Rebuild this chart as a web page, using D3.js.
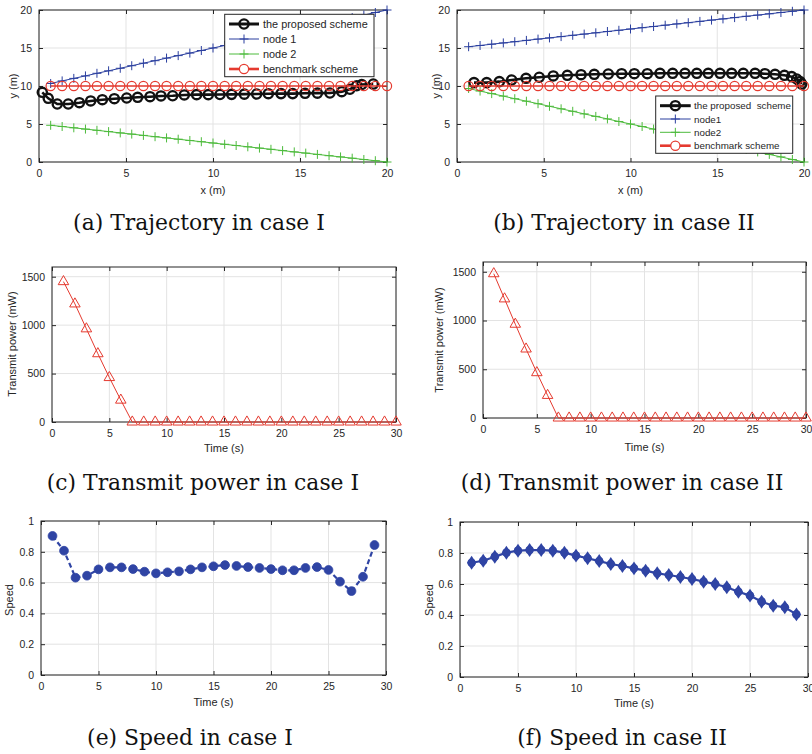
<!DOCTYPE html>
<html><head><meta charset="utf-8">
<script src="https://cdn.jsdelivr.net/npm/d3@7"></script>
<style>
html,body{margin:0;padding:0;background:#fff;}
svg{display:block;}
text{font-family:"Liberation Sans",Arial,sans-serif;}
</style></head>
<body>
<svg id="fig" width="812" height="754"></svg>
<script>
// ---------------- DATA ----------------
const trajTicks = [0, 5, 10, 15, 20];
const timeTicks = [0, 5, 10, 15, 20, 25, 30];
const powerTicks = [0, 500, 1000, 1500];
const speedTicks = [0, 0.2, 0.4, 0.6, 0.8, 1];

// common x positions of node / benchmark markers (m)
const nodeX = [0.67,1.33,2,2.67,3.33,4,4.67,5.33,6,6.67,7.33,8,8.67,9.33,10,10.67,11.33,12,12.67,13.33,14,14.67,15.33,16,16.67,17.33,18,18.67,19.33,20];
const benchY = [10,10,10,10,10,10,10,10,10,10,10,10,10,10,10,10,10,10,10,10,10,10,10,10,10,10,10,10,10,10];

// case I
const node1Y_I = [10.33,10.67,11,11.33,11.67,12,12.33,12.67,13,13.33,13.67,14,14.33,14.67,15,15.33,15.67,16,16.33,16.67,17,17.33,17.67,18,18.33,18.67,19,19.33,19.67,20];
const node2Y_I = [4.83,4.67,4.5,4.33,4.17,4,3.83,3.67,3.5,3.33,3.17,3,2.83,2.67,2.5,2.33,2.17,2,1.83,1.67,1.5,1.33,1.17,1,0.83,0.67,0.5,0.33,0.17,0];
const propX_I = [0.19,0.53,1.05,1.68,2.32,2.97,3.64,4.33,5.04,5.67,6.38,7.01,7.68,8.35,9.06,9.73,10.40,11.07,11.80,12.51,13.18,13.91,14.58,15.29,16.00,16.72,17.40,17.87,18.26,18.55,19.21];
const propY_I = [9.17,8.38,7.63,7.63,7.80,8.03,8.20,8.33,8.42,8.51,8.59,8.69,8.72,8.82,8.86,8.86,8.88,8.90,8.93,8.95,8.99,9.00,9.00,9.04,9.06,9.08,9.25,9.57,10.04,10.20,10.26];

// case II
const node1Y_II = [15.17,15.33,15.5,15.67,15.83,16,16.17,16.33,16.5,16.67,16.83,17,17.17,17.33,17.5,17.67,17.83,18,18.17,18.33,18.5,18.67,18.83,19,19.17,19.33,19.5,19.67,19.83,20];
const node2Y_II = [9.67,9.33,9,8.67,8.33,8,7.67,7.33,7,6.67,6.33,6,5.67,5.33,5,4.67,4.33,4,3.67,3.33,3,2.67,2.33,2,1.67,1.33,1,0.67,0.33,0];
const propX_II = [0.98,1.71,2.44,3.15,3.98,4.74,5.55,6.36,7.15,7.91,8.72,9.49,10.22,10.97,11.70,12.43,13.14,13.82,14.48,15.16,15.83,16.50,17.18,17.75,18.33,18.87,19.29,19.58,19.77,19.87];
const propY_II = [10.44,10.44,10.57,10.79,11.01,11.15,11.32,11.41,11.49,11.54,11.58,11.62,11.62,11.62,11.67,11.67,11.67,11.67,11.67,11.67,11.67,11.67,11.67,11.62,11.54,11.41,11.23,10.92,10.57,10.26];

// transmit power (mW), t = 1..30
const powerT = [1,2,3,4,5,6,7,8,9,10,11,12,13,14,15,16,17,18,19,20,21,22,23,24,25,26,27,28,29,30];
const power_I = [1449,1219,962,705,459,226,0,0,0,0,0,0,0,0,0,0,0,0,0,0,0,0,0,0,0,0,0,0,0,0];
const power_II = [1480,1222,962,708,465,232,0,0,0,0,0,0,0,0,0,0,0,0,0,0,0,0,0,0,0,0,0,0,0,0];

// speed, t = 1..29
const speedT = [1,2,3,4,5,6,7,8,9,10,11,12,13,14,15,16,17,18,19,20,21,22,23,24,25,26,27,28,29];
const speed_I = [0.903,0.807,0.632,0.645,0.686,0.699,0.699,0.688,0.671,0.660,0.667,0.673,0.686,0.699,0.706,0.714,0.708,0.701,0.695,0.688,0.680,0.680,0.695,0.701,0.682,0.606,0.545,0.638,0.844];
const speed_II = [0.737,0.750,0.776,0.802,0.815,0.819,0.819,0.815,0.802,0.783,0.766,0.748,0.729,0.716,0.701,0.686,0.669,0.658,0.645,0.632,0.615,0.600,0.579,0.550,0.525,0.486,0.460,0.450,0.404];

const legendI = ["the proposed scheme", "node 1", "node 2", "benchmark scheme"];
const legendII = ["the proposed  scheme", "node1", "node2", "benchmark scheme"];
const captions = ["(a) Trajectory in case I", "(b) Trajectory in case II",
  "(c) Transmit power in case I", "(d) Transmit power in case II",
  "(e) Speed in case I", "(f) Speed in case II"];

// ---------------- STYLE ----------------
const C_BLACK = "#111111", C_BLUE = "#2b3f9f", C_GREEN = "#4dbb3c", C_RED = "#e53a2f", C_SPEED = "#2f44a4";
const AX = "#262626", GRID = "#e3e3e3";

const svg = d3.select("#fig");

function makePanel(cfg) {
  const x = d3.scaleLinear().domain(cfg.xd).range([cfg.l, cfg.r]);
  const y = d3.scaleLinear().domain(cfg.yd).range([cfg.b, cfg.t]);
  const g = svg.append("g");
  // grid
  g.selectAll(null).data(cfg.xt).join("line")
    .attr("x1", d => x(d)).attr("x2", d => x(d)).attr("y1", cfg.t).attr("y2", cfg.b)
    .attr("stroke", GRID).attr("stroke-width", 1);
  g.selectAll(null).data(cfg.yt).join("line")
    .attr("y1", d => y(d)).attr("y2", d => y(d)).attr("x1", cfg.l).attr("x2", cfg.r)
    .attr("stroke", GRID).attr("stroke-width", 1);
  // axes
  const fx = cfg.fmtX || (d => d);
  const fy = cfg.fmtY || (d => d);
  const styleAx = (sel, showText) => {
    sel.select(".domain").remove();
    sel.selectAll("line").attr("stroke", AX);
    sel.selectAll("text").attr("fill", AX).style("font-size", "10.5px")
      .style("font-family", '"Liberation Sans", Arial, sans-serif');
    if (!showText) sel.selectAll("text").remove();
  };
  g.append("g").attr("transform", `translate(0,${cfg.b})`)
    .call(d3.axisBottom(x).tickValues(cfg.xt).tickSize(-4).tickPadding(8).tickFormat(fx))
    .call(s => styleAx(s, true));
  g.append("g").attr("transform", `translate(0,${cfg.t})`)
    .call(d3.axisTop(x).tickValues(cfg.xt).tickSize(-4).tickFormat(""))
    .call(s => styleAx(s, false));
  g.append("g").attr("transform", `translate(${cfg.l},0)`)
    .call(d3.axisLeft(y).tickValues(cfg.yt).tickSize(-4).tickPadding(7).tickFormat(fy))
    .call(s => styleAx(s, true));
  g.append("g").attr("transform", `translate(${cfg.r},0)`)
    .call(d3.axisRight(y).tickValues(cfg.yt).tickSize(-4).tickFormat(""))
    .call(s => styleAx(s, false));
  g.append("rect").attr("x", cfg.l).attr("y", cfg.t).attr("width", cfg.r - cfg.l).attr("height", cfg.b - cfg.t)
    .attr("fill", "none").attr("stroke", AX).attr("stroke-width", 1);
  // labels
  g.append("text").attr("x", (cfg.l + cfg.r) / 2).attr("y", cfg.xlY).attr("text-anchor", "middle")
    .attr("dominant-baseline", "central").attr("fill", AX).style("font-size", "11px").text(cfg.xlab);
  g.append("text").attr("transform", `translate(${cfg.ylX},${cfg.ylYc}) rotate(-90)`).attr("text-anchor", "middle")
    .attr("dominant-baseline", "central").attr("fill", AX).style("font-size", "11px").text(cfg.ylab);
  return {g, x, y};
}

function plusPath(s) { return `M${-s},0H${s}M0,${-s}V${s}`; }

function drawTraj(p, propX, propY, n1, n2) {
  const {g, x, y} = p;
  const zip = (xs, ys) => xs.map((v, i) => [v, ys[i]]);
  const line = d3.line().x(d => x(d[0])).y(d => y(d[1]));
  const prop = zip(propX, propY), a = zip(nodeX, n1), b = zip(nodeX, n2), c = zip(nodeX, benchY);
  g.append("path").attr("d", line(prop)).attr("fill", "none").attr("stroke", C_BLACK).attr("stroke-width", 2.6);
  g.selectAll(null).data(prop).join("circle").attr("cx", d => x(d[0])).attr("cy", d => y(d[1])).attr("r", 4.6)
    .attr("fill", "none").attr("stroke", C_BLACK).attr("stroke-width", 2.4);
  g.append("path").attr("d", line(a)).attr("fill", "none").attr("stroke", C_BLUE).attr("stroke-width", 1);
  g.selectAll(null).data(a).join("path").attr("transform", d => `translate(${x(d[0])},${y(d[1])})`)
    .attr("d", plusPath(4.5)).attr("stroke", C_BLUE).attr("stroke-width", 1).attr("fill", "none");
  g.append("path").attr("d", line(b)).attr("fill", "none").attr("stroke", C_GREEN).attr("stroke-width", 1);
  g.selectAll(null).data(b).join("path").attr("transform", d => `translate(${x(d[0])},${y(d[1])})`)
    .attr("d", plusPath(4.5)).attr("stroke", C_GREEN).attr("stroke-width", 1).attr("fill", "none");
  g.append("path").attr("d", line(c)).attr("fill", "none").attr("stroke", C_RED).attr("stroke-width", 1.5);
  g.selectAll(null).data(c).join("circle").attr("cx", d => x(d[0])).attr("cy", d => y(d[1])).attr("r", 4.6)
    .attr("fill", "none").attr("stroke", C_RED).attr("stroke-width", 1.2);
}

function drawLegend(g, box, labels, fs) {
  g.append("rect").attr("x", box.x0).attr("y", box.y0).attr("width", box.x1 - box.x0).attr("height", box.y1 - box.y0)
    .attr("fill", "#fff").attr("stroke", AX).attr("stroke-width", 1);
  const styles = [
    {c: C_BLACK, w: 3, m: "o", mw: 2.4},
    {c: C_BLUE, w: 1, m: "+", mw: 1},
    {c: C_GREEN, w: 1, m: "+", mw: 1},
    {c: C_RED, w: 2.6, m: "o", mw: 1.2}
  ];
  labels.forEach((lab, i) => {
    const yy = box.rows[i], s = styles[i], mx = (box.lx0 + box.lx1) / 2;
    g.append("line").attr("x1", box.lx0).attr("x2", box.lx1).attr("y1", yy).attr("y2", yy)
      .attr("stroke", s.c).attr("stroke-width", s.w);
    if (s.m === "o") g.append("circle").attr("cx", mx).attr("cy", yy).attr("r", 4.6)
      .attr("fill", s.c === C_RED ? "#fff" : "none").attr("stroke", s.c).attr("stroke-width", s.mw);
    else g.append("path").attr("transform", `translate(${mx},${yy})`).attr("d", plusPath(4.5))
      .attr("stroke", s.c).attr("stroke-width", 1);
    g.append("text").attr("x", box.tx).attr("y", yy).attr("dominant-baseline", "central")
      .attr("fill", AX).style("font-size", fs + "px").style("white-space", "pre").text(lab);
  });
}

// ---- (a)
const pa = makePanel({l: 39, r: 387, t: 10, b: 162, xd: [0, 20], yd: [0, 20], xt: trajTicks, yt: trajTicks,
  xlab: "x (m)", ylab: "y (m)", xlY: 190, ylX: 13, ylYc: 86});
drawTraj(pa, propX_I, propY_I, node1Y_I, node2Y_I);
drawLegend(pa.g, {x0: 224.7, x1: 374, y0: 14.3, y1: 76.7, rows: [24, 39, 54, 69], lx0: 229, lx1: 259, tx: 263}, legendI, 10.9);

// ---- (b)
const pb = makePanel({l: 457, r: 804, t: 10, b: 162, xd: [0, 20], yd: [0, 20], xt: trajTicks, yt: trajTicks,
  xlab: "x (m)", ylab: "y (m)", xlY: 190, ylX: 436, ylYc: 86});
drawTraj(pb, propX_II, propY_II, node1Y_II, node2Y_II);
drawLegend(pb.g, {x0: 655.7, x1: 792.7, y0: 96, y1: 153.3, rows: [105.7, 119, 132.3, 145.7], lx0: 660, lx1: 690.7, tx: 694}, legendII, 9.8);

// ---- power
function drawPower(p, vals) {
  const {g, x, y} = p;
  const data = powerT.map((t, i) => [t, vals[i]]);
  g.append("path").attr("d", d3.line().x(d => x(d[0])).y(d => y(d[1]))(data))
    .attr("fill", "none").attr("stroke", C_RED).attr("stroke-width", 1);
  const tri = d3.symbol().type(d3.symbolTriangle).size(48);
  g.selectAll(null).data(data).join("path").attr("transform", d => `translate(${x(d[0])},${y(d[1])})`)
    .attr("d", tri()).attr("fill", "none").attr("stroke", C_RED).attr("stroke-width", 1);
}
const pc = makePanel({l: 52, r: 396, t: 267, b: 422, xd: [0, 30], yd: [0, 1600], xt: timeTicks, yt: powerTicks,
  xlab: "Time (s)", ylab: "Transmit power (mW)", xlY: 448, ylX: 12, ylYc: 344});
drawPower(pc, power_I);
const pd = makePanel({l: 483, r: 806, t: 262, b: 418, xd: [0, 30], yd: [0, 1600], xt: timeTicks, yt: powerTicks,
  xlab: "Time (s)", ylab: "Transmit power (mW)", xlY: 447, ylX: 439, ylYc: 340});
drawPower(pd, power_II);

// ---- speed
const sfmt = d => (d === 0 || d === 1) ? String(d) : d3.format(".1f")(d);
const pe = makePanel({l: 41, r: 386, t: 521, b: 675, xd: [0, 30], yd: [0, 1], xt: timeTicks, yt: speedTicks, fmtY: sfmt,
  xlab: "Time (s)", ylab: "Speed", xlY: 702, ylX: 9, ylYc: 600});
{
  const {g, x, y} = pe;
  const data = speedT.map((t, i) => [t, speed_I[i]]);
  g.append("path").attr("d", d3.line().x(d => x(d[0])).y(d => y(d[1]))(data))
    .attr("fill", "none").attr("stroke", C_SPEED).attr("stroke-width", 2.2).attr("stroke-dasharray", "5,3");
  g.selectAll(null).data(data).join("circle").attr("cx", d => x(d[0])).attr("cy", d => y(d[1])).attr("r", 4.4)
    .attr("fill", C_SPEED).attr("stroke", C_SPEED).attr("stroke-width", 0.8);
}
const pf = makePanel({l: 460, r: 808, t: 522, b: 677, xd: [0, 30], yd: [0, 1], xt: timeTicks, yt: speedTicks, fmtY: sfmt,
  xlab: "Time (s)", ylab: "Speed", xlY: 703, ylX: 429, ylYc: 600});
{
  const {g, x, y} = pf;
  const data = speedT.map((t, i) => [t, speed_II[i]]);
  g.append("path").attr("d", d3.line().x(d => x(d[0])).y(d => y(d[1]))(data))
    .attr("fill", "none").attr("stroke", C_SPEED).attr("stroke-width", 2.2);
  const dia = d3.symbol().type(d3.symbolDiamond).size(56);
  g.selectAll(null).data(data).join("path").attr("transform", d => `translate(${x(d[0])},${y(d[1])}) scale(1.15,1)`)
    .attr("d", dia()).attr("fill", C_SPEED);
  g.selectAll(null).data(data).join("circle").attr("cx", d => x(d[0])).attr("cy", d => y(d[1])).attr("r", 4.1)
    .attr("fill", C_SPEED);
}

// ---- captions
const capPos = [[199, 222], [624, 222], [203, 482], [622, 482], [190, 737], [622, 737]];
const capG = svg.append("g");
const caps = capG.selectAll(null).data(captions).join("text")
  .attr("x", (d, i) => capPos[i][0]).attr("y", (d, i) => capPos[i][1])
  .attr("text-anchor", "middle").attr("dominant-baseline", "central")
  .style("font-family", '"DejaVu Serif", "Liberation Serif", serif').style("font-size", "20px")
  .attr("fill", "#111").text(d => d);
const wA = caps.nodes()[0].getComputedTextLength();
const fsCap = 20 * 252 / wA;
caps.style("font-size", fsCap + "px");
</script>
</body></html>
